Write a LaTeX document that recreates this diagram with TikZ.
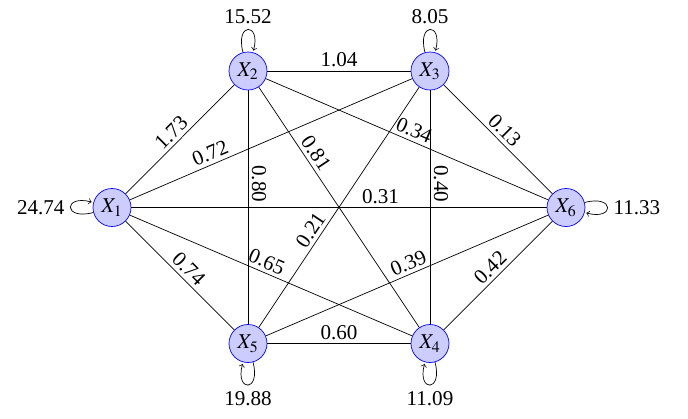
\documentclass[tikz,border=0pt]{standalone}
\usepackage{mathptmx}
\usepackage[no-math]{fontspec}
\setmainfont{Liberation Serif}
\usepackage{tikz}
\usetikzlibrary{positioning}

\begin{document}
\begin{tikzpicture}[>=to, font=\rmfamily\fontsize{12}{14.4}\selectfont,
          var/.style={circle, draw=blue, fill=blue!20, minimum size=7.6mm,
                      inner sep=0pt},
          wt/.style={sloped, above, inner sep=2pt}]
        \useasboundingbox (0,0) rectangle (13.76,-8.36);
        \foreach \i/\x/\y in {1/2.24/-4.15, 2/4.96/-1.42, 3/8.60/-1.42,
                              4/8.60/-6.87, 5/4.96/-6.87, 6/11.32/-4.15}{
          \node[var] (x\i) at (\x,\y) {$X_{\i}$};
        }
        % weights between variables
        \foreach \a/\b/\p/\w in {1/2/0.49/1.73, 1/3/0.30/0.72, 1/6/0.6/0.31,
            1/5/0.51/0.74, 1/4/0.47/0.65, 2/3/0.5/1.04, 2/5/0.40/0.80,
            2/4/0.3/0.81, 2/6/0.51/0.34, 3/6/0.49/0.13, 3/4/0.40/0.40,
            5/3/0.38/0.21, 5/6/0.52/0.39, 5/4/0.5/0.60, 4/6/0.5/0.42}{
          \draw (x\a) -- node[wt, pos=\p] {\w} (x\b);
        }
        % self loops
        \path[->] (x1) edge[loop left]  node[left]  {24.74} ();
        \path[->] (x2) edge[loop above] node[above] {15.52} ();
        \path[->] (x3) edge[loop above] node[above] {8.05} ();
        \path[->] (x4) edge[loop below] node[below] {11.09} ();
        \path[->] (x5) edge[loop below] node[below] {19.88} ();
        \path[->] (x6) edge[loop right] node[right] {11.33} ();
      \end{tikzpicture}
\end{document}
